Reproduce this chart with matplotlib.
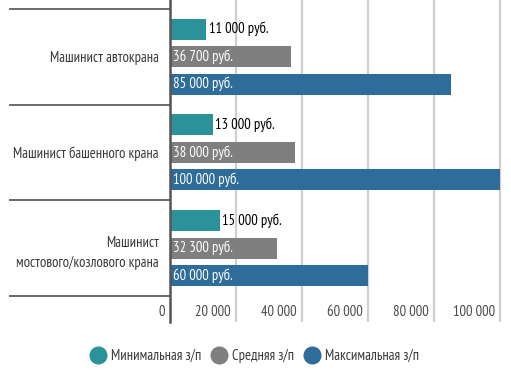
import matplotlib
matplotlib.use('Agg')
import matplotlib.pyplot as plt
import matplotlib.transforms as mtransforms
from matplotlib.lines import Line2D
import numpy as np

plt.rcParams['font.family'] = ['PT Sans Narrow', 'Roboto Condensed', 'Archivo Narrow', 'DejaVu Sans']

# данные
categories = ['Машинист автокрана', 'Машинист башенного крана', 'Машинист\nмостового/козлового крана']
series_names = ['Минимальная з/п', 'Средняя з/п', 'Максимальная з/п']
min_salary = [11000, 13000, 15000]
avg_salary = [36700, 38000, 32300]
max_salary = [85000, 100000, 60000]
tick_values = [0, 20000, 40000, 60000, 80000, 100000]
tick_labels = ['0', '20 000', '40 000', '60 000', '80 000', '100 000']

colors = ['#2b929a', '#7f7f7f', '#2e6c9a']
text_color = '#3a3a3a'
fs = 10.5

W, H = 511, 374
fig = plt.figure(figsize=(W / 100, H / 100), dpi=100)
ax = fig.add_axes([170 / W, (H - 322) / H, 333 / W, 322 / H])

idx = np.arange(len(categories))
offsets = [-0.29, 0.0, 0.285]
bar_h = 0.22

for k, (vals, col) in enumerate(zip([min_salary, avg_salary, max_salary], colors)):
    bars = ax.barh(idx + offsets[k], vals, height=bar_h, color=col, zorder=3)
    for rect, v in zip(bars, vals):
        txt = f'{v:,}'.replace(',', ' ') + ' руб.'
        y = rect.get_y() + rect.get_height() / 2
        if k == 0:
            ax.text(v + 700, y, txt, ha='left', va='center', fontsize=fs, color='black', zorder=4)
        else:
            ax.text(800, y, txt, ha='left', va='center', fontsize=fs, color='white', zorder=4)

ax.set_xlim(0, 100000 * 333 / 330)
ax.set_ylim(2.5 + 26 / 95.7, -0.5 - 9 / 95.7)

# сетка
for t in tick_values[1:]:
    ax.axvline(t, color='#cfcfcf', lw=1.6, zorder=1)

# разделители категорий
for s in [-0.5, 0.5, 1.5, 2.5]:
    ax.axhline(s, xmin=-160 / 333, xmax=0, color='#6a6a6a', lw=1.4, clip_on=False, zorder=2)

for sp in ['top', 'right', 'bottom']:
    ax.spines[sp].set_visible(False)
ax.spines['left'].set_color('#555555')
ax.spines['left'].set_linewidth(1.8)
ax.spines['left'].set_zorder(5)

ax.set_yticks(idx)
ax.set_yticklabels(categories, fontsize=fs, color=text_color, ha='right')
ax.tick_params(axis='y', length=0, pad=8)
for lab in ax.get_yticklabels():
    lab.set_multialignment('right')
    lab.set_linespacing(1.6)

ax.set_xticks(tick_values)
ax.set_xticklabels(tick_labels, fontsize=fs, color='#4a4a4a')
ax.tick_params(axis='x', length=0, pad=-12)
offset = mtransforms.ScaledTranslation(-5 / 100, 0, fig.dpi_scale_trans)
for lab in ax.get_xticklabels():
    lab.set_ha('right')
    lab.set_transform(lab.get_transform() + offset)

handles = [Line2D([], [], marker='o', ls='', markersize=12, color=c) for c in colors]
fig.legend(handles, series_names, loc='center', bbox_to_anchor=(0.5, (H - 356) / H), ncol=3,
           frameon=False, fontsize=fs, handlelength=0.8, handletextpad=0.5, columnspacing=0.8,
           labelcolor=text_color)

fig.savefig('out.png', dpi=100)
